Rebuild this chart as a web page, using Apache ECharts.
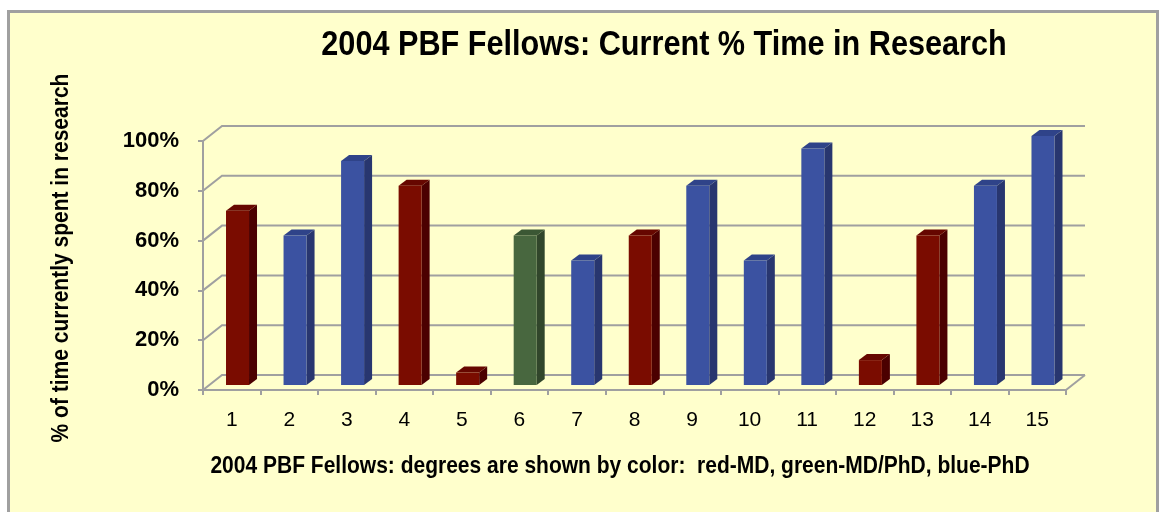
<!DOCTYPE html>
<html>
<head>
<meta charset="utf-8">
<script src="https://cdn.jsdelivr.net/npm/echarts@6/dist/echarts.min.js"></script>
<style>
html,body{margin:0;padding:0;background:#fff;}
#chart{width:1160px;height:512px;}
</style>
</head>
<body>
<div id="chart"></div>
<script>
// ---- data ----
const categories = ['1','2','3','4','5','6','7','8','9','10','11','12','13','14','15'];
const values = [70, 60, 90, 80, 5, 60, 50, 60, 80, 50, 95, 10, 60, 80, 100];
const degrees = ['MD','PhD','PhD','MD','MD','MD/PhD','PhD','MD','PhD','PhD','PhD','MD','MD','PhD','PhD'];
const yTicks = [0, 20, 40, 60, 80, 100];
const titleText = '2004 PBF Fellows: Current % Time in Research';
const xTitle = '2004 PBF Fellows: degrees are shown by color:  red-MD, green-MD/PhD, blue-PhD';
const yTitle = '% of time currently spent in research';

// ---- styles ----
const palette = {
  'MD':     {front:'#7A0C00', side:'#4B0000', top:'#660700'},
  'PhD':    {front:'#3B52A1', side:'#28366F', top:'#2F4389'},
  'MD/PhD': {front:'#48673F', side:'#31462B', top:'#3B5734'}
};
const SANS = '"Liberation Sans",Arial,sans-serif';
const gridColor = '#A0A0A0';
const wallDX = 19, wallDY = -15;
const barDX = 8, barDY = -6, barLift = -5;
const narrow = 0.875;

const chart = echarts.init(document.getElementById('chart'), null, {renderer:'canvas'});

const barData = values.map((v, i) => [i, v, degrees[i]]);
const wallData = yTicks.map(t => [0, t]);

chart.setOption({
  backgroundColor: '#ffffff',
  animation: false,
  graphic: [
    {type:'rect', z:-10, shape:{x:8.5, y:11.5, width:1149, height:530},
     style:{fill:'#FFFFCC', stroke:'#A0A0A0', lineWidth:3}},
    {type:'text', z:10, x:664, y:45, scaleX:narrow,
     style:{text:titleText, textAlign:'center', textVerticalAlign:'middle',
            font:'bold 35px ' + SANS, fill:'#000'}},
    {type:'text', z:10, x:620, y:466, scaleX:narrow,
     style:{text:xTitle, textAlign:'center', textVerticalAlign:'middle',
            font:'bold 24px ' + SANS, fill:'#000'}},
    {type:'text', z:10, x:61, y:258, rotation:Math.PI/2, scaleX:narrow,
     style:{text:yTitle, textAlign:'center', textVerticalAlign:'middle',
            font:'bold 24px ' + SANS, fill:'#000'}}
  ],
  grid: {left:203, right:94, top:141, bottom:122, containLabel:false},
  xAxis: {
    type:'category', data:categories, boundaryGap:true,
    axisLine:{show:true, lineStyle:{color:gridColor, width:2}},
    axisTick:{show:true, length:5, lineStyle:{color:gridColor, width:2}},
    axisLabel:{fontSize:21, color:'#000', margin:20, fontFamily:SANS},
    splitLine:{show:false}
  },
  yAxis: {
    type:'value', min:0, max:100, interval:20,
    axisLine:{show:true, lineStyle:{color:gridColor, width:2}},
    axisTick:{show:true, length:5, lineStyle:{color:gridColor, width:2}},
    axisLabel:{formatter:'{value}%', fontSize:22, fontWeight:'bold', color:'#000', margin:24, fontFamily:SANS},
    splitLine:{show:false}
  },
  series: [
    {
      type:'custom', z:1, clip:false, silent:true,
      data: wallData,
      encode:{x:0, y:1},
      renderItem: function(params, api){
        const cs = params.coordSys;
        const t = api.value(1);
        const yF = api.coord([0, t])[1];
        const children = [{
          type:'polyline',
          shape:{points:[[cs.x, yF],[cs.x+wallDX, yF+wallDY],[cs.x+cs.width+wallDX, yF+wallDY]]},
          style:{stroke:gridColor, lineWidth:2, fill:null}
        }];
        if (t === 0) {
          children.push({type:'line',
            shape:{x1:cs.x+cs.width, y1:yF, x2:cs.x+cs.width+wallDX, y2:yF+wallDY},
            style:{stroke:gridColor, lineWidth:2}});
        }
        return {type:'group', children:children};
      }
    },
    {
      type:'custom', z:2, clip:false, silent:true,
      data: barData,
      encode:{x:0, y:1},
      renderItem: function(params, api){
        const i = api.value(0);
        const v = api.value(1);
        const col = palette[degrees[i]];
        const base = api.coord([i, 0]);
        const top = api.coord([i, v]);
        const band = api.size([1, 0])[0];
        const bw = band * 0.4;
        const cx = base[0] + band * 0.1;
        const xl = cx - bw/2, xr = cx + bw/2;
        const yb = base[1] + barLift, yt = top[1] + barLift;
        return {type:'group', children:[
          {type:'polygon', shape:{points:[[xr,yt],[xr+barDX,yt+barDY],[xr+barDX,yb+barDY],[xr,yb]]},
           style:{fill:col.side}},
          {type:'polygon', shape:{points:[[xl,yt],[xl+barDX,yt+barDY],[xr+barDX,yt+barDY],[xr,yt]]},
           style:{fill:col.top}},
          {type:'rect', shape:{x:xl, y:yt, width:bw, height:yb-yt},
           style:{fill:col.front}}
        ]};
      }
    }
  ]
});
</script>
</body>
</html>
